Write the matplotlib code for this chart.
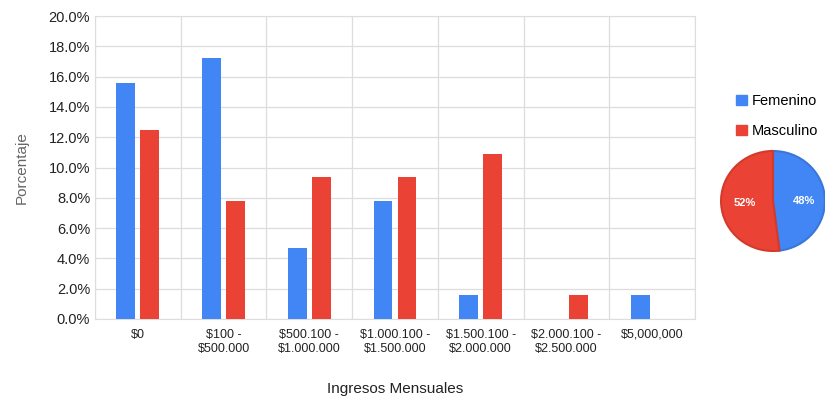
import matplotlib.pyplot as plt
import numpy as np
from matplotlib.patches import Patch

plt.rcParams['font.family'] = ['Liberation Sans', 'DejaVu Sans']

categorias = ["$0", "$100 -\n$500.000", "$500.100 -\n$1.000.000", "$1.000.100 -\n$1.500.000",
              "$1.500.100 -\n$2.000.000", "$2.000.100 -\n$2.500.000", "$5,000,000"]
femenino = [15.6, 17.2, 4.7, 7.8, 1.6, 0.0, 1.6]
masculino = [12.5, 7.8, 9.4, 9.4, 10.9, 1.6, 0.0]
pie_labels = ["Femenino", "Masculino"]
pie_vals = [48, 52]

azul = '#4285F4'
rojo = '#EA4335'

fig = plt.figure(figsize=(8.25, 4.03), dpi=100)
W, H = 825, 403
ax = fig.add_axes([95 / W, 1 - 319 / H, 600 / W, 303 / H])

x = np.arange(len(categorias))
w = 0.22
ax.bar(x - 0.14, femenino, w, color=azul, zorder=3)
ax.bar(x + 0.14, masculino, w, color=rojo, zorder=3)

ax.set_xlim(-0.5, len(categorias) - 0.5)
ax.set_ylim(0, 20)
ax.set_yticks(np.arange(0, 21, 2))
ax.set_yticklabels(["%.1f%%" % v for v in np.arange(0, 21, 2)], fontsize=10.5, color='#222222')
ax.set_xticks(x)
ax.set_xticklabels(categorias, fontsize=9, color='#222222')
ax.set_xticks(np.arange(-0.5, len(categorias)), minor=True)
ax.grid(True, axis='y', color='#dddddd', linewidth=0.9, zorder=0)
ax.grid(True, axis='x', which='minor', color='#dddddd', linewidth=0.9, zorder=0)
ax.tick_params(length=0, which='both')
ax.tick_params(axis='x', pad=7)
for s in ax.spines.values():
    s.set_color('#dddddd')
ax.set_ylabel("Porcentaje", fontsize=11, color='#666666', labelpad=14)
ax.set_xlabel("Ingresos Mensuales", fontsize=11, color='#222222', labelpad=20)

# pie
pax = fig.add_axes([720 / W, 1 - 252 / H, 106 / W, 102 / H])
wedges, texts = pax.pie(pie_vals, colors=[azul, rojo], startangle=90, counterclock=False,
                        wedgeprops=dict(edgecolor='none'))
wedges[0].set_edgecolor('#3a78d8')
wedges[1].set_edgecolor('#d33a2c')
for wd in wedges:
    wd.set_linewidth(1.5)
pax.text(0.6, 0.0, "48%", color='white', fontsize=8, fontweight='bold', ha='center', va='center')
pax.text(-0.55, -0.05, "52%", color='white', fontsize=8, fontweight='bold', ha='center', va='center')
pax.set_xlim(-1.02, 1.02)
pax.set_ylim(-1.02, 1.02)
pax.set_aspect('auto')

fig.legend(handles=[Patch(color=azul), Patch(color=rojo)], labels=pie_labels,
           loc='upper left', bbox_to_anchor=(736 / W, 1 - 94 / H), frameon=False,
           fontsize=10.5, handlelength=0.75, handleheight=0.75, handletextpad=0.3,
           labelspacing=1.1, borderpad=0, borderaxespad=0)

fig.savefig("out.png", dpi=100)
